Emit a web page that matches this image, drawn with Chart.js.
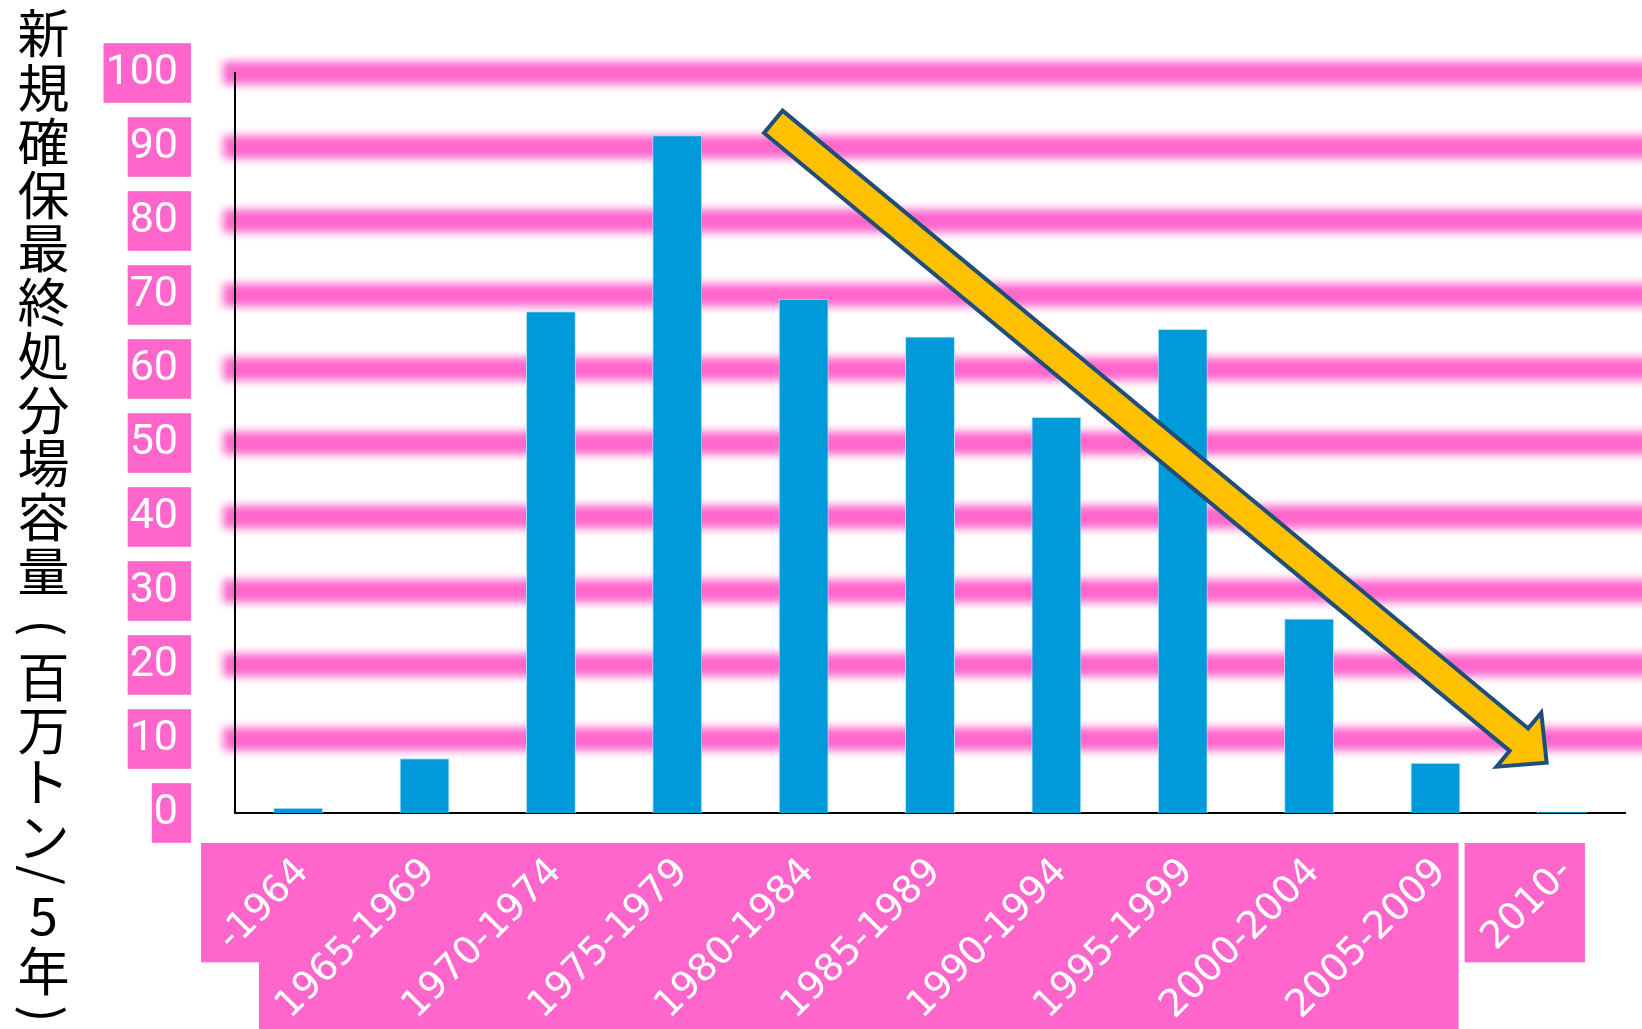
<!DOCTYPE html>
<html><head><meta charset="utf-8">
<script src="https://cdn.jsdelivr.net/npm/chart.js@4.4.1/dist/chart.umd.min.js"></script>
<style>html,body{margin:0;padding:0;background:#fff;overflow:hidden}#wrap{width:1642px;height:1029px}</style>
</head><body><div id="wrap"><canvas id="c" width="1642" height="1029"></canvas></div>
<script>
// ---- data ----
const categories = ['-1964','1965-1969','1970-1974','1975-1979','1980-1984','1985-1989','1990-1994','1995-1999','2000-2004','2005-2009','2010-'];
const capacity = [0.7, 7.4, 67.8, 91.6, 69.5, 64.4, 53.5, 65.4, 26.3, 6.8, 0.2];
const yMin = 0, yMax = 100, yStep = 10;
const axisTitleChars = ['新','規','確','保','最','終','処','分','場','容','量','(','百','万','ト','ン','/','5','年',')'];
// trend arrow, in data units (category index, value)
const trendFrom = {x: 3.76, y: 93.4};
const trendTo = {x: 9.88, y: 6.8};

// ---- style ----
const PINK = '#FF66CC';
const titleCenters = [33.5,88.5,142,195,248,302,356,410,463,517,571,628,677,730,782,837,875,915,971,1014];
const rotatedChars = new Set(['(',')','/']);

const bgPlugin = {
  id: 'bg',
  beforeDraw(chart) {
    const ctx = chart.ctx, ys = chart.scales.y, xs = chart.scales.x, ca = chart.chartArea;
    ctx.save();
    ctx.fillStyle = '#fff';
    ctx.fillRect(0, 0, chart.width, chart.height);
    // blurred pink grid bands
    ctx.filter = 'blur(4px)';
    ctx.strokeStyle = PINK;
    ctx.lineWidth = 23;
    ys.ticks.forEach(t => {
      if (t.value <= yMin) return;
      const y = ys.getPixelForValue(t.value);
      ctx.beginPath();
      ctx.moveTo(ca.left - 12, y);
      ctx.lineTo(chart.width + 30, y);
      ctx.stroke();
    });
    ctx.filter = 'none';
    // x label background boxes (axis-aligned bounds of rotated labels)
    ctx.fillStyle = PINK;
    const pad = {l: 8, r: 2, t: 7, b: 2};
    xs.getLabelItems().forEach(item => {
      const o = item.options;
      const rot = o.rotation || 0;
      ctx.font = item.font.string;
      const w = ctx.measureText(item.label).width;
      const h = item.font.lineHeight;
      let x0 = 0, x1 = 0;
      if (o.textAlign === 'right') { x0 = -w; x1 = 0; }
      else if (o.textAlign === 'center') { x0 = -w / 2; x1 = w / 2; }
      else { x0 = 0; x1 = w; }
      const off = item.textOffset;
      let y0, y1;
      if (o.textBaseline === 'top') { y0 = off; y1 = off + h; }
      else if (o.textBaseline === 'bottom' || o.textBaseline === 'alphabetic') { y0 = off - h; y1 = off; }
      else { y0 = off - h / 2; y1 = off + h / 2; }
      const c = Math.cos(rot), s = Math.sin(rot);
      const pts = [[x0,y0],[x1,y0],[x1,y1],[x0,y1]].map(([px,py]) => [o.translation[0] + px*c - py*s, o.translation[1] + px*s + py*c]);
      const minX = Math.min(...pts.map(p=>p[0])), maxX = Math.max(...pts.map(p=>p[0]));
      const minY = Math.min(...pts.map(p=>p[1])), maxY = Math.max(...pts.map(p=>p[1]));
      ctx.fillRect(minX - pad.l, minY - pad.t, maxX - minX + pad.l + pad.r, maxY - minY + pad.t + pad.b);
    });
    // vertical axis title
    ctx.fillStyle = '#000';
    ctx.textAlign = 'center';
    ctx.textBaseline = 'middle';
    axisTitleChars.forEach((ch, i) => {
      const y = titleCenters[i];
      ctx.save();
      ctx.translate(43.5, y);
      if (rotatedChars.has(ch)) {
        ctx.rotate(Math.PI / 2);
        ctx.font = '50px "Noto Sans CJK JP"';
      } else {
        ctx.font = '52px "Noto Sans CJK JP"';
      }
      ctx.fillText(ch, 0, 0);
      ctx.restore();
    });
    ctx.restore();
  },
  afterDatasetsDraw(chart) {
    const ctx = chart.ctx, xs = chart.scales.x, ys = chart.scales.y;
    const p0 = {x: xs.getPixelForValue(trendFrom.x), y: ys.getPixelForValue(trendFrom.y)};
    const p1 = {x: xs.getPixelForValue(trendTo.x), y: ys.getPixelForValue(trendTo.y)};
    const dx = p1.x - p0.x, dy = p1.y - p0.y, L = Math.hypot(dx, dy);
    const ux = dx / L, uy = dy / L, nx = -uy, ny = ux;
    const sw = 14.5, hw = 35, hl = 36;
    const bx = p1.x - ux * hl, by = p1.y - uy * hl;
    ctx.save();
    ctx.beginPath();
    ctx.moveTo(p0.x + nx*sw, p0.y + ny*sw);
    ctx.lineTo(bx + nx*sw, by + ny*sw);
    ctx.lineTo(bx + nx*hw, by + ny*hw);
    ctx.lineTo(p1.x, p1.y);
    ctx.lineTo(bx - nx*hw, by - ny*hw);
    ctx.lineTo(bx - nx*sw, by - ny*sw);
    ctx.lineTo(p0.x - nx*sw, p0.y - ny*sw);
    ctx.closePath();
    ctx.fillStyle = '#FFC000';
    ctx.fill();
    ctx.lineJoin = 'miter';
    ctx.lineWidth = 4;
    ctx.strokeStyle = '#1F4E79';
    ctx.stroke();
    ctx.restore();
  }
};

new Chart(document.getElementById('c'), {
  type: 'bar',
  data: {
    labels: categories,
    datasets: [{
      data: capacity,
      backgroundColor: '#009ADA',
      borderColor: '#B5E2F6',
      borderWidth: 1,
      borderSkipped: 'bottom',
      barPercentage: 0.395,
      categoryPercentage: 1
    }]
  },
  options: {
    responsive: false,
    animation: false,
    layout: {padding: {left: 95, right: 17, top: 73, bottom: 0}},
    plugins: {legend: {display: false}, tooltip: {enabled: false}},
    scales: {
      x: {
        grid: {display: false, drawTicks: false},
        border: {display: true, color: '#000', width: 2},
        ticks: {
          color: '#fff',
          font: {family: '"DejaVu Sans"', size: 38},
          minRotation: 45, maxRotation: 45, autoSkip: false, padding: 37, labelOffset: 5
        },
        afterFit(s) { s.height = 216; }
      },
      y: {
        min: yMin, max: yMax,
        grid: {display: false, drawTicks: true, tickLength: 57},
        border: {display: true, color: '#000', width: 2},
        ticks: {
          stepSize: yStep,
          color: '#fff',
          font: {family: 'Roboto, sans-serif', size: 43},
          padding: 0,
          showLabelBackdrop: true,
          backdropColor: PINK,
          backdropPadding: {top: 4, bottom: 4, left: 2, right: 13}
        },
        afterFit(s) { s.width = 140; }
      }
    }
  },
  plugins: [bgPlugin]
});
</script></body></html>
